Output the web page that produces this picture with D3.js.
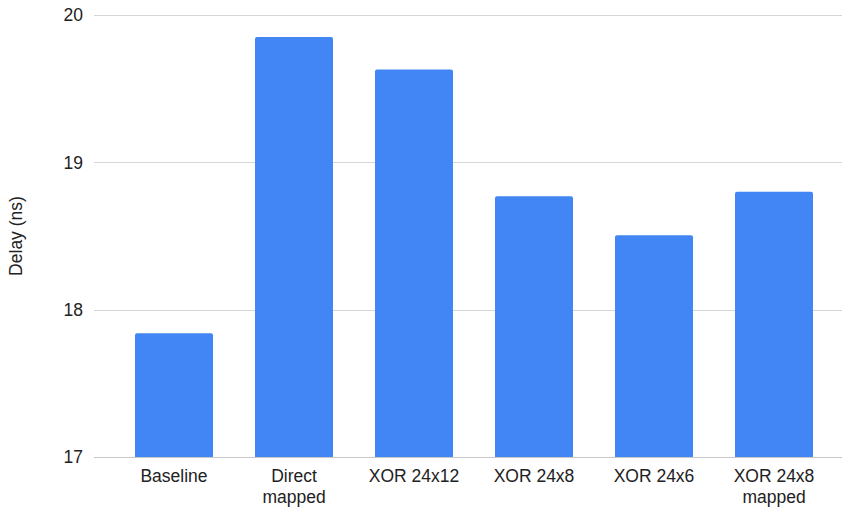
<!DOCTYPE html>
<html>
<head>
<meta charset="utf-8">
<script src="https://cdn.jsdelivr.net/npm/d3@7"></script>
<style>
  html, body { margin: 0; padding: 0; background: #fff; }
  svg { display: block; font-family: Arial, "Liberation Sans", sans-serif; }
</style>
</head>
<body>
<svg id="chart" width="843" height="507"></svg>
<script>
// Delay per address-mapping configuration
const categories = ["Baseline", "Direct\nmapped", "XOR 24x12", "XOR 24x8", "XOR 24x6", "XOR 24x8\nmapped"];
const delays = [17.84, 19.85, 19.63, 18.77, 18.505, 18.80];
const yTicks = [17, 18, 19, 20];
const yTitle = "Delay (ns)";

const svg = d3.select("#chart");
const plot = { left: 94, right: 842, top: 15, bottom: 457 };

const x = d3.scaleBand()
  .domain(categories)
  .range([114, 834])
  .paddingInner(0.35)
  .paddingOuter(0.175);

const y = d3.scaleLinear()
  .domain([17, 20])
  .range([plot.bottom, plot.top]);

// Horizontal gridlines
svg.append("g")
  .selectAll("line")
  .data(yTicks)
  .join("line")
  .attr("x1", plot.left)
  .attr("x2", plot.right)
  .attr("y1", d => Math.round(y(d)) + 0.5)
  .attr("y2", d => Math.round(y(d)) + 0.5)
  .attr("stroke", d => d === 17 ? "#c8c8c8" : "#d6d6d6")
  .attr("stroke-width", 1.2);

// Y tick labels
svg.append("g")
  .selectAll("text")
  .data(yTicks)
  .join("text")
  .attr("x", 83)
  .attr("y", d => y(d))
  .attr("dy", "0.36em")
  .attr("text-anchor", "end")
  .attr("font-size", 17.5)
  .attr("fill", "#222")
  .text(d => d);

// Bars
svg.append("g")
  .selectAll("path")
  .data(categories.map((c, i) => ({ c, v: delays[i] })))
  .join("path")
  .attr("fill", "#4285f4")
  .attr("d", d => {
    const x0 = x(d.c), w = x.bandwidth();
    const top = y(d.v), bot = y(17), r = 2;
    return `M${x0},${bot}V${top + r}Q${x0},${top} ${x0 + r},${top}H${x0 + w - r}Q${x0 + w},${top} ${x0 + w},${top + r}V${bot}Z`;
  });

// Category labels (may wrap onto two lines)
const xl = svg.append("g")
  .selectAll("text")
  .data(categories)
  .join("text")
  .attr("x", d => x(d) + x.bandwidth() / 2)
  .attr("y", 482)
  .attr("text-anchor", "middle")
  .attr("font-size", 17.5)
  .attr("fill", "#222");
xl.selectAll("tspan")
  .data(d => d.split("\n").map(t => ({ t, parent: d })))
  .join("tspan")
  .attr("x", d => x(d.parent) + x.bandwidth() / 2)
  .attr("dy", (d, i) => i === 0 ? 0 : 21)
  .text(d => d.t);

// Y axis title
svg.append("text")
  .attr("transform", `translate(22,${(plot.top + plot.bottom) / 2}) rotate(-90)`)
  .attr("text-anchor", "middle")
  .attr("font-size", 17.5)
  .attr("fill", "#222")
  .text(yTitle);
</script>
</body>
</html>
